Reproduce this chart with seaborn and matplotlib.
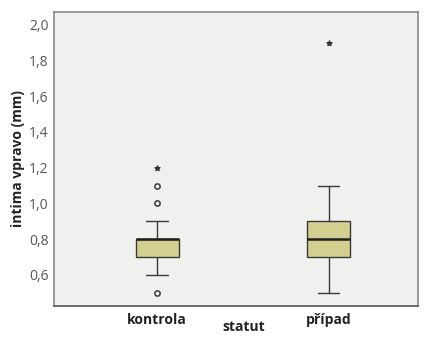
import pandas as pd
import matplotlib
matplotlib.use('Agg')
import matplotlib.pyplot as plt
import seaborn as sns
from matplotlib.ticker import FuncFormatter

# Values (intima right, mm)
groups = ['kontrola', 'případ']
kontrola = [0.5, 0.6, 0.7, 0.7, 0.7, 0.7, 0.8, 0.8, 0.8, 0.8, 0.8, 0.8, 0.8, 0.8,
            0.9, 1.0, 1.1, 1.2]
pripad = [0.5, 0.6, 0.7, 0.7, 0.7, 0.8, 0.8, 0.8, 0.9, 0.9, 0.9, 1.0, 1.1, 1.9]

# outliers (circles) and extremes (stars), as marked in the picture
outliers = {'kontrola': [0.5, 1.0, 1.1], 'případ': []}
extremes = {'kontrola': [1.2], 'případ': [1.9]}

y_ticks = [0.6, 0.8, 1.0, 1.2, 1.4, 1.6, 1.8, 2.0]

df = pd.DataFrame({
    'statut': ['kontrola'] * len(kontrola) + ['případ'] * len(pripad),
    'intima': kontrola + pripad,
})

sns.set_style('white')
plt.rcParams['font.family'] = ['Open Sans', 'DejaVu Sans']

fig = plt.figure(figsize=(4.33, 3.38), dpi=100)
ax = fig.add_axes([0.125, 0.095, 0.84, 0.87])
ax.set_facecolor('#f0f0ee')

sns.boxplot(data=df, x='statut', y='intima', order=groups, width=0.25,
            color='#d3cf8f', saturation=1, showfliers=False, whis=1.5,
            boxprops=dict(edgecolor='#3a3a3a', linewidth=1.0),
            whiskerprops=dict(color='#3a3a3a', linewidth=1.0),
            capprops=dict(color='#3a3a3a', linewidth=1.0),
            medianprops=dict(color='#1e1e1e', linewidth=1.8),
            ax=ax)

for i, g in enumerate(groups):
    if outliers[g]:
        ax.scatter([i] * len(outliers[g]), outliers[g], s=14, facecolor='white',
                   edgecolor='#444444', linewidth=1.2, zorder=3)
    if extremes[g]:
        ax.scatter([i] * len(extremes[g]), extremes[g], s=14, marker='*',
                   color='#333333', zorder=3)

ax.set_xlim(-0.6, 1.52)
ax.set_ylim(0.426, 2.073)
ax.set_yticks(y_ticks)
ax.yaxis.set_major_formatter(FuncFormatter(lambda v, p: f'{v:.1f}'.replace('.', ',')))

ax.tick_params(axis='y', length=3, color='#777777', labelsize=10, labelcolor='#555555', pad=1)
ax.tick_params(axis='x', length=3, color='#777777', labelsize=10, pad=2)
for lbl in ax.get_xticklabels():
    lbl.set_fontweight('bold')
    lbl.set_color('#222222')

for s in ax.spines.values():
    s.set_color('#8a8a8a')
    s.set_linewidth(1.2)
ax.spines['bottom'].set_color('#555555')

ax.set_xlabel('statut', fontsize=10, fontweight='bold', color='#222222')
ax.xaxis.set_label_coords(0.52, -0.048)
ax.set_ylabel('intima vpravo (mm)', fontsize=10, fontweight='bold', color='#222222', labelpad=3)

fig.savefig('out.png', dpi=100, facecolor='white')
